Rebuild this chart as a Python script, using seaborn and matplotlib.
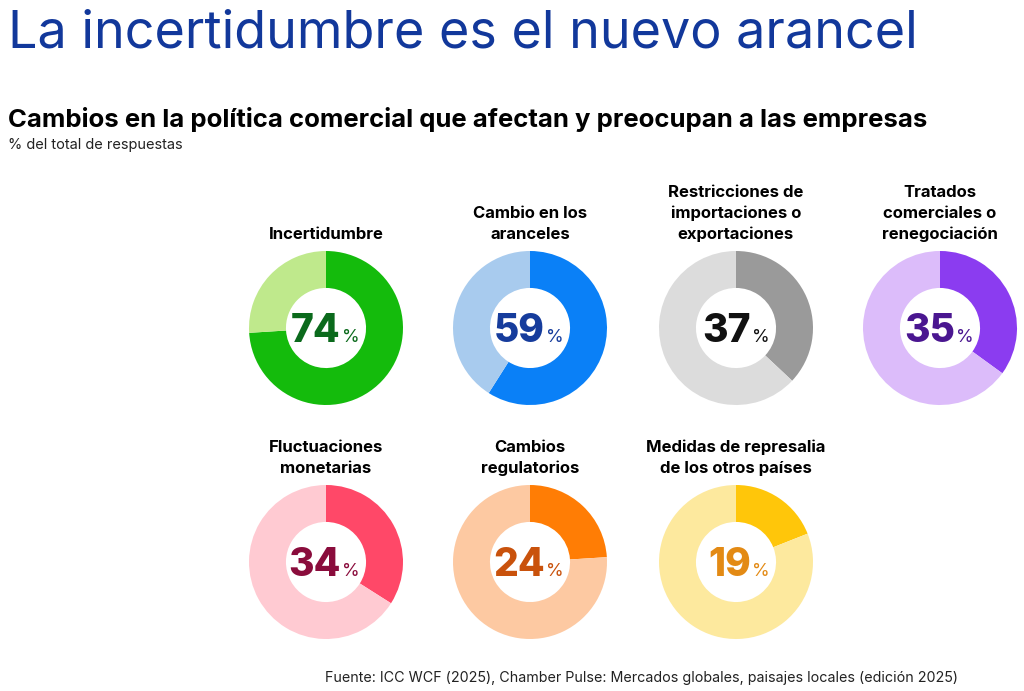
import matplotlib.pyplot as plt
import seaborn as sns

# data
categories = ['Incertidumbre',
              'Cambio en los\naranceles',
              'Restricciones de\nimportaciones o\nexportaciones',
              'Tratados\ncomerciales o\nrenegociación',
              'Fluctuaciones\nmonetarias',
              'Cambios\nregulatorios',
              'Medidas de represalia\nde los otros países']
values = [74, 59, 37, 35, 34, 24, 19]

# colours: main slice, remainder, number
main_colors = ['#14bb0c', '#0a80f7', '#9a9a9a', '#8b3cf0', '#ff4868', '#ff7d05', '#ffc60a']
rest_colors = ['#bfe98c', '#a8cbee', '#dcdcdc', '#dcbcfa', '#ffcad2', '#fdc9a2', '#fde99e']
num_colors = ['#0b6a1c', '#163c9c', '#111111', '#4a1690', '#8a0c3c', '#c9520c', '#e38a14']

sns.set_theme(style='white')
plt.rcParams['font.family'] = ['Inter', 'DejaVu Sans']

W, H = 1024, 691
fig = plt.figure(figsize=(W / 100, H / 100), dpi=100)
fig.patch.set_facecolor('white')

fig.text(8 / W, 1 - 48 / H, 'La incertidumbre es el nuevo arancel',
         fontsize=37.5, color='#12389b', fontweight='normal', va='baseline')
fig.text(8 / W, 1 - 127 / H,
         'Cambios en la política comercial que afectan y preocupan a las empresas',
         fontsize=18.5, color='black', fontweight='bold', va='baseline')
fig.text(8 / W, 1 - 149 / H, '% del total de respuestas',
         fontsize=10.5, color='#222222', va='baseline')
fig.text(958 / W, 1 - 682 / H,
         'Fuente: ICC WCF (2025), Chamber Pulse: Mercados globales, paisajes locales (edición 2025)',
         fontsize=10.3, color='#222222', ha='right', va='baseline')

# donut positions in pixels (centre x, centre y from top)
xs = [326, 530, 736, 940]
ys = [328, 562]
R = 77

for i, (cat, v) in enumerate(zip(categories, values)):
    cx = xs[i % 4] if i < 4 else xs[i - 4]
    cy = ys[0] if i < 4 else ys[1]
    ax = fig.add_axes([(cx - R) / W, 1 - (cy + R) / H, 2 * R / W, 2 * R / H])
    ax.pie([v, 100 - v], colors=[main_colors[i], rest_colors[i]],
           startangle=90, counterclock=False,
           wedgeprops=dict(width=0.48, edgecolor='none'))
    ax.set_xlim(-1, 1)
    ax.set_ylim(-1, 1)
    ax.set_aspect('equal')
    ax.axis('off')
    ax.text(0.19, -0.18, str(v), ha='right', va='baseline', fontsize=28,
            fontweight='heavy', color=num_colors[i])
    ax.text(0.21, -0.18, '%', ha='left', va='baseline', fontsize=13,
            color=num_colors[i])
    ax.text(0, 1.12, cat, ha='center', va='bottom', fontsize=12,
            fontweight='bold', color='black', linespacing=1.45,
            clip_on=False)

fig.savefig('out.png', dpi=100, facecolor='white')
